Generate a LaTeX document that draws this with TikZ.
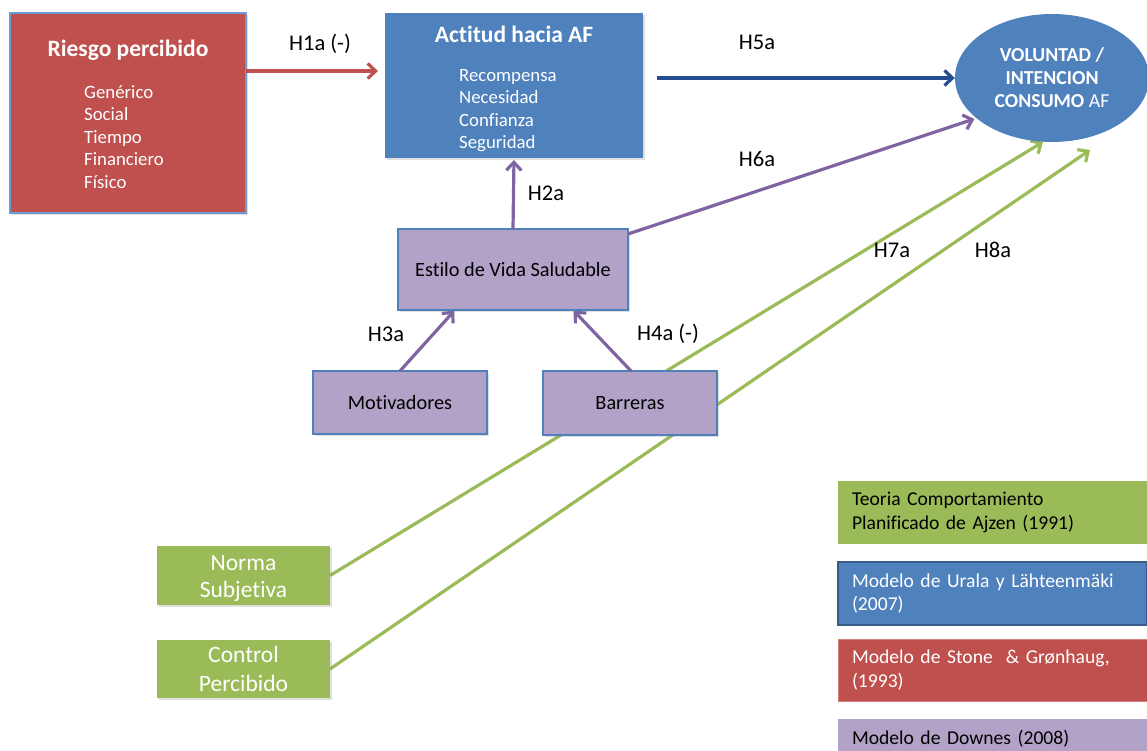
\documentclass[tikz,border=0pt]{standalone}
\usepackage{fontspec}
\setmainfont{Carlito}[Ligatures=NoCommon]
\usetikzlibrary{arrows.meta,shapes.geometric,shadows}
\pgfdeclarelayer{background}
\pgfsetlayers{background,main}

\definecolor{cRed}{HTML}{C0504D}
\definecolor{cBlue}{HTML}{4F81BD}
\definecolor{cGreen}{HTML}{9BBB59}
\definecolor{cLilac}{HTML}{B3A2C7}
\definecolor{cViolet}{HTML}{8064A2}
\definecolor{cNavy}{HTML}{254D8F}
\definecolor{cEdge}{HTML}{6F9BD2}
\definecolor{cDark}{HTML}{385D8A}
\definecolor{cRedEdge}{HTML}{D47F7C}

\tikzset{
  box/.style={rectangle, inner sep=0pt, outer sep=0pt,
    drop shadow={shadow xshift=1.5pt, shadow yshift=-2pt, opacity=0.25}},
  txt/.style={font=\fontsize{18.8}{22.5}\selectfont, inner sep=0pt},
  ttl/.style={font=\fontsize{23.5}{27}\selectfont\bfseries, inner sep=0pt, text=white},
  hyp/.style={font=\fontsize{22.5}{26}\selectfont, inner sep=0pt},
  legend/.style={rectangle, minimum width=309pt, text width=281pt, inner xsep=14pt,
    inner ysep=0pt, align=left, font=\fontsize{19.6}{23.5}\selectfont},
  arr/.style={line width=3.2pt, -{Straight Barb[length=8pt,width=15pt]}},
}

\begin{document}
\begin{tikzpicture}[x=1pt, y=-1pt]
\useasboundingbox (0,0) rectangle (1147,751);
\clip (0,0) rectangle (1147,751);

% main constructs
\node[box, fill=cRed, draw=cEdge, line width=1.5pt, minimum width=236pt, minimum height=200pt] (riesgo) at (128,113) {};
\node[ttl] (riesgoT) at (128,50) {Riesgo percibido};
\node[txt, text=white, anchor=west, align=left] (riesgoL) at (84,137)
  {Genérico\\Social\\Tiempo\\Financiero\\Físico};

\node[box, fill=cBlue, minimum width=258pt, minimum height=145pt] (actitud) at (514,85.5) {};
\node[ttl] (actitudT) at (514,34) {Actitud hacia AF};
\node[txt, text=white, anchor=west, align=left] (actitudL) at (459,110.5)
  {Recompensa\\Necesidad\\Confianza\\Seguridad};

\node[ellipse, fill=cBlue, minimum width=194pt, minimum height=128pt, inner sep=0pt,
  text=white, align=center, font=\fontsize{19.8}{23}\selectfont\bfseries] (volu) at (1052,78)
  {VOLUNTAD /\\INTENCION\\CONSUMO {\mdseries AF}};

\node[box, fill=cLilac, draw=cBlue, line width=1.5pt, minimum width=230pt, minimum height=81pt, txt, font=\fontsize{20.3}{24}\selectfont] (estilo) at (513,269.5) {Estilo de Vida Saludable};
\node[box, fill=cLilac, draw=cBlue, line width=1.5pt, minimum width=174pt, minimum height=63pt, txt, font=\fontsize{20.3}{24}\selectfont] (motiv) at (400,402.5) {Motivadores};
\node[box, fill=cLilac, draw=cBlue, line width=1.5pt, minimum width=174pt, minimum height=64pt, txt, font=\fontsize{20.3}{24}\selectfont] (barr) at (630,403) {Barreras};

\node[box, fill=cGreen, minimum width=173pt, minimum height=59pt] (norma) at (243.5,575.5) {};
\node[inner sep=0pt, text=white, align=center, font=\fontsize{23.5}{27}\selectfont] (normaT) at (243.5,578) {Norma\\Subjetiva};
\node[box, fill=cGreen, minimum width=173pt, minimum height=58pt, text=white, align=center,
  font=\fontsize{23.5}{29}\selectfont] (control) at (243.5,669) {Control\\Percibido};

% legend
\node[legend, fill=cGreen, minimum height=63pt] (leg1) at (992.5,512.5)
  {Teoria Comportamiento\\Planificado de Ajzen (1991)};
\node[legend, fill=cBlue, draw=cDark, line width=2.5pt, text=white, minimum height=63pt] (leg2) at (992.5,593.5)
  {Modelo de Urala y Lähteenmäki\\(2007)};
\node[legend, fill=cRed, draw=cRedEdge, line width=1pt, text=white, minimum height=62pt] (leg3) at (992.5,670)
  {Modelo de Stone~ \& Grønhaug,\\(1993)};
\node[legend, fill=cLilac, minimum height=40pt] (leg4) at (992.5,739)
  {Modelo de Downes (2008)};

% hypotheses (connectors)
\draw[arr, cRed] ([yshift=42pt]riesgo.east) -- ([yshift=14.5pt]actitud.west) [shorten >=7pt];
\draw[arr, cNavy] ([xshift=14pt]actitud.east |- volu.west) -- (volu.west);
\draw[arr, cViolet] (estilo.north) -- (actitud.south) [shorten >=2pt];
\draw[arr, cViolet] ([yshift=-5pt]estilo.north east) -- (volu.208) [shorten >=2pt];
\draw[arr, cViolet] (motiv.north) -- ([xshift=-58pt]estilo.south) [shorten >=1pt];
\draw[arr, cViolet] ([xshift=1pt]barr.north) -- ([xshift=60pt]estilo.south) [shorten >=1pt];

\coordinate (h8tip) at (1090,150);
\begin{pgfonlayer}{background}
\draw[arr, cGreen] (norma.east) -- (volu.262);
\draw[arr, cGreen] (control.east) -- (h8tip);
\end{pgfonlayer}

% hypothesis labels
\node[hyp] (lh1) at (320,44) {H1a (-)};
\node[hyp] (lh5) at (757,42) {H5a};
\node[hyp] (lh2) at (546,193) {H2a};
\node[hyp] (lh6) at (757,159) {H6a};
\node[hyp] (lh3) at (386,334) {H3a};
\node[hyp] (lh4) at (668,334) {H4a (-)};
\node[hyp] (lh7) at (892,250) {H7a};
\node[hyp] (lh8) at (993,250) {H8a};
\end{tikzpicture}
\end{document}
